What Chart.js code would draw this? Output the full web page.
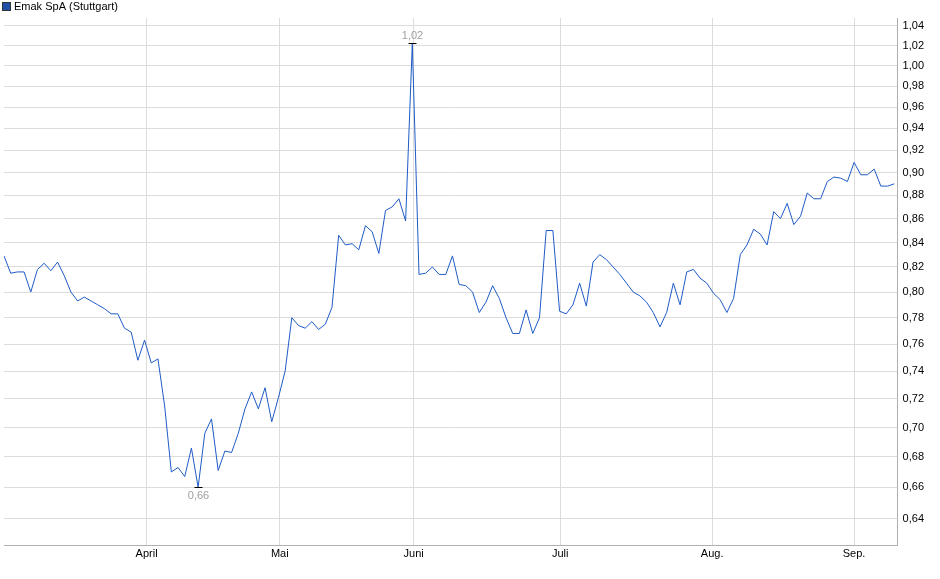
<!DOCTYPE html>
<html>
<head>
<meta charset="utf-8">
<script src="https://cdn.jsdelivr.net/npm/chart.js@4"></script>
<style>
  html, body { margin: 0; padding: 0; background: #fff; }
  #wrap { width: 940px; height: 579px; position: relative; }
</style>
</head>
<body>
<div id="wrap"><canvas id="chart"></canvas></div>
<script>
const seriesName = "Emak SpA (Stuttgart)";

// Kurs pro Handelstag
const prices = [
  0.829, 0.815, 0.816, 0.816, 0.800, 0.818, 0.823, 0.817, 0.824, 0.813,
  0.800, 0.793, 0.796, 0.793, 0.790, 0.787, 0.783, 0.783, 0.772, 0.769,
  0.748, 0.763, 0.746, 0.749, 0.715, 0.670, 0.673, 0.667, 0.686, 0.660,
  0.696, 0.706, 0.671, 0.684, 0.683, 0.696, 0.713, 0.725, 0.713, 0.728,
  0.704, 0.721, 0.740, 0.780, 0.774, 0.772, 0.777, 0.771,
  0.775, 0.788, 0.846, 0.838, 0.839, 0.834, 0.854, 0.849, 0.831, 0.867,
  0.870, 0.877, 0.858, 1.022, 0.814, 0.815, 0.820, 0.814, 0.814, 0.829,
  0.806, 0.805, 0.800, 0.784, 0.792, 0.805, 0.795, 0.780, 0.768, 0.768,
  0.786, 0.768, 0.780, 0.850, 0.850, 0.785, 0.783, 0.790, 0.807, 0.789,
  0.824, 0.830, 0.826, 0.820, 0.814,
  0.807, 0.800, 0.797, 0.792, 0.784, 0.773, 0.784, 0.807, 0.790, 0.816,
  0.818, 0.811, 0.807, 0.799, 0.794, 0.784, 0.795, 0.830, 0.838, 0.851,
  0.847, 0.838, 0.866, 0.860, 0.873, 0.855, 0.862, 0.882, 0.877, 0.877,
  0.892, 0.896, 0.895, 0.892, 0.909, 0.898, 0.898, 0.903, 0.888, 0.888,
  0.890
];

const monthLabels = ["April", "Mai", "Juni", "Juli", "Aug.", "Sep."];
const monthPos = [21.3, 41.2, 61.2, 83.1, 105.8, 127.0];
const yTicks = [0.64, 0.66, 0.68, 0.70, 0.72, 0.74, 0.76, 0.78, 0.80, 0.82, 0.84,
  0.86, 0.88, 0.90, 0.92, 0.94, 0.96, 0.98, 1.00, 1.02, 1.04];

const points = prices.map((v, i) => ({ x: i, y: v }));
const fmt = v => v.toFixed(2).replace(".", ",");
const FONT = "11px Arial, 'Liberation Sans', sans-serif";

// Legende oben links + Hoch/Tief-Markierungen
const extras = {
  id: "extras",
  afterDraw(chart) {
    const { ctx, scales: { x, y } } = chart;
    ctx.save();
    ctx.font = FONT;
    ctx.fillStyle = "#1f4fa8";
    ctx.fillRect(3, 3, 7, 7);
    ctx.strokeStyle = "#333";
    ctx.lineWidth = 1;
    ctx.strokeRect(2.5, 2.5, 8, 8);
    ctx.fillStyle = "#000";
    ctx.textBaseline = "middle";
    ctx.fillText(seriesName, 14, 7);

    const hi = prices.indexOf(Math.max(...prices));
    const lo = prices.indexOf(Math.min(...prices));
    ctx.fillStyle = "#a0a0a0";
    ctx.textAlign = "center";
    ctx.strokeStyle = "#000";
    for (const [i, up] of [[hi, true], [lo, false]]) {
      const px = Math.round(x.getPixelForValue(i)) + 0.5;
      const py = Math.round(y.getPixelForValue(prices[i])) + 0.5;
      ctx.beginPath();
      ctx.moveTo(px - 4, py); ctx.lineTo(px + 4, py);
      ctx.stroke();
      ctx.textBaseline = up ? "bottom" : "top";
      ctx.fillText(fmt(prices[i]), px, up ? py - 2 : py + 3);
    }
    ctx.restore();
  }
};

new Chart(document.getElementById("chart"), {
  type: "line",
  data: {
    datasets: [{
      label: seriesName,
      data: points,
      borderColor: "#1f5bc6",
      borderWidth: 1,
      pointRadius: 0,
      tension: 0
    }]
  },
  options: {
    responsive: true,
    maintainAspectRatio: false,
    animation: false,
    layout: { padding: { left: 4, right: 11, top: 18, bottom: 16 } },
    plugins: {
      legend: { display: false },
      tooltip: { enabled: false }
    },
    scales: {
      x: {
        type: "linear",
        min: 0, max: 133.5,
        afterBuildTicks: s => { s.ticks = monthPos.map(v => ({ value: v })); },
        ticks: {
          autoSkip: false, maxRotation: 0, padding: 2,
          color: "#000",
          font: { family: "Arial, 'Liberation Sans', sans-serif", size: 11 },
          callback: (v, i) => monthLabels[i]
        },
        grid: { color: "#dcdcdc", drawTicks: false },
        border: { color: "#b0b0b0" }
      },
      y: {
        type: "logarithmic",
        position: "right",
        min: 0.623, max: 1.048,
        afterBuildTicks: s => { s.ticks = yTicks.map(v => ({ value: v })); },
        ticks: {
          autoSkip: false, padding: 5,
          color: "#000",
          font: { family: "Arial, 'Liberation Sans', sans-serif", size: 11 },
          callback: v => fmt(v)
        },
        grid: { color: "#dcdcdc", drawTicks: false },
        border: { color: "#b0b0b0" }
      }
    }
  },
  plugins: [extras]
});
</script>
</body>
</html>
